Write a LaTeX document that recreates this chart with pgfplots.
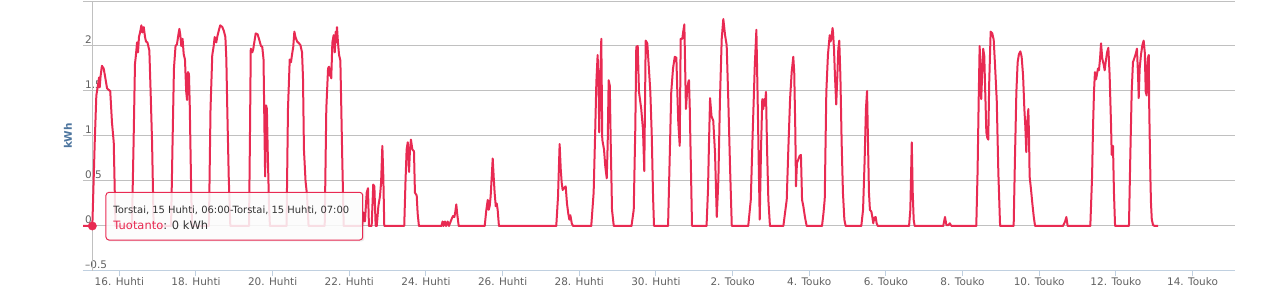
\documentclass[border=0pt]{standalone}
\usepackage{fontspec}
\setmainfont{DejaVu Sans}
\usepackage{pgfplots}
\pgfplotsset{compat=1.18}
\definecolor{hcred}{HTML}{E82A52}
\definecolor{gridc}{HTML}{C0C0C0}
\definecolor{axisc}{HTML}{C0D0E0}
\definecolor{labc}{HTML}{606060}
\definecolor{ttlc}{HTML}{4D759E}
\definecolor{tipc}{HTML}{333333}
\begin{document}
\begin{tikzpicture}
\begin{axis}[
  scale only axis, width=1152bp, height=270bp,
  xmin=1.25, xmax=722.6, ymin=-0.5, ymax=2.5,
  axis x line*=bottom, axis y line*=left,
  x axis line style={color=axisc, line width=1bp, -},
  y axis line style={draw=none},
  xtick={24,72,...,696},
  xticklabels={16. Huhti,18. Huhti,20. Huhti,22. Huhti,24. Huhti,26. Huhti,28. Huhti,30. Huhti,2. Touko,4. Touko,6. Touko,8. Touko,10. Touko,12. Touko,14. Touko},
  ytick={-0.5,0,0.5,1,1.5,2,2.5},
  yticklabels={–0.5,0,0.5,1,1.5,2,},
  ymajorgrids, grid style={gridc, line width=1bp},
  tick align=outside, major tick length=5bp,
  xtick style={axisc, line width=1bp},
  ytick style={draw=none},
  ticklabel style={font=\fontsize{10.5}{12}\selectfont, text=labc},
  yticklabel style={anchor=south west, inner sep=0pt, xshift=7bp, yshift=2bp},
  xticklabel style={anchor=north, inner sep=1bp},
  ylabel={kWh},
  ylabel style={at={(rel axis cs:0,0.5)}, anchor=center, yshift=15bp, font=\bfseries\fontsize{10.5}{12}\selectfont, text=ttlc},
  clip=false,
]
\coordinate (bl) at (rel axis cs:0,0);
\coordinate (tr) at (rel axis cs:1,1);
\draw[gridc, line width=1bp] (axis cs:7.1,-0.5) -- (axis cs:7.1,2.5);
\addplot[hcred, line width=2bp, line join=round, no markers] coordinates {
(1.3,0) (7.1,0) (8.6,0.93) (9.6,1.45) (10.6,1.56) (11.3,1.65) (11.7,1.54) (12.3,1.67) (13.1,1.78) (14.2,1.75) (15.2,1.65) (16.3,1.53) (17.5,1.51) (18.3,1.5) (19.4,1.15) (20.5,0.93) (21.6,0)
(31.9,0) (32.9,0.9) (33.8,1.8) (34.4,1.9) (35.1,2.04) (35.7,1.93) (36.3,2.1) (37.1,2.16) (37.8,2.23) (38.5,2.15) (39.3,2.21) (40.1,2.1) (40.7,2.05) (41.6,2.04) (42.8,1.95) (43.6,1.49) (44.5,0.93) (45.5,0)
(56.4,0) (57.3,0.9) (58.2,1.75) (59.2,2.0) (60.1,2.02) (61.1,2.14) (61.6,2.19) (62.2,2.12) (62.8,2.0) (63.6,2.08) (64.3,1.91) (65.1,1.85) (65.9,1.49) (66.4,1.4) (67.0,1.71) (67.6,1.69) (68.1,1.34) (68.9,0.5) (69.5,0)
(80.1,0) (81.1,1.3) (82.2,1.9) (83.1,2.0) (83.7,2.1) (84.7,2.04) (85.3,2.1) (86.4,2.18) (87.2,2.23) (88.5,2.21) (89.4,2.17) (90.4,2.1) (91.0,1.86) (91.6,1.3) (92.5,0.55) (93.5,0)
(105.2,0) (105.8,1.0) (106.3,1.97) (107.3,1.93) (107.9,1.97) (108.6,2.05) (109.4,2.14) (110.6,2.13) (111.6,2.07) (112.7,2.0) (113.5,1.99) (114.3,1.85) (114.9,1.04) (115.3,0.55) (115.9,1.34) (116.4,1.3) (116.9,0.85) (117.7,0.25) (118.3,0)
(128.7,0) (129.6,1.3) (130.7,1.85) (131.5,1.82) (132.1,1.9) (132.9,1.99) (133.6,2.16) (134.3,2.1) (135.3,2.05) (136.5,2.03) (137.4,2.01) (138.4,1.93) (139.0,1.65) (139.6,0.85) (140.6,0.5) (141.5,0.35) (142.5,0)
(152.6,0) (153.6,1.3) (154.7,1.75) (155.3,1.77) (155.7,1.67) (156.4,1.75) (156.7,1.64) (157.4,2.04) (158.2,2.12) (158.9,1.93) (159.5,2.16) (159.9,2.04) (160.3,2.21) (160.9,2.04) (161.6,1.9) (162.4,1.84) (163.0,1.3) (163.6,0.74) (164.5,0)
(176.0,0) (176.9,0.15) (177.8,0.05) (178.9,0.37) (179.7,0.42) (180.3,0) (182.0,0) (183.0,0.46) (183.7,0.44) (184.5,0) (185.2,0) (186.2,0.22) (187.2,0.33) (187.9,0.48) (188.7,0.89) (189.3,0.55) (189.9,0)
(202.4,0) (203.2,0.5) (203.9,0.85) (204.6,0.93) (205.4,0.6) (206.0,0.85) (206.6,0.96) (207.5,0.85) (208.5,0.83) (209.1,0.37) (210.2,0.34) (210.8,0.14) (211.6,0)
(225.7,0) (226.4,0.05) (227.0,0) (227.9,0.05) (228.6,0) (229.6,0.05) (230.4,0) (231.9,0.07) (232.9,0.11) (233.8,0.1) (234.4,0.16) (235.0,0.24) (235.6,0.13) (236.5,0)
(252.8,0) (253.8,0.18) (254.7,0.29) (255.3,0.18) (255.9,0.22) (256.5,0.33) (257.2,0.55) (257.8,0.75) (258.4,0.55) (259.0,0.37) (259.7,0.22) (260.3,0.25) (260.9,0.18) (261.7,0)
(297.6,0) (298.7,0.33) (299.7,0.91) (300.4,0.63) (301.0,0.48) (301.6,0.4) (302.4,0.42) (303.5,0.44) (304.3,0.25) (305.1,0.14) (305.8,0.07) (306.4,0.12) (307.3,0.03) (308.1,0)
(319.5,0) (321.0,0.37) (322.0,1.07) (322.7,1.6) (323.5,1.9) (324.2,1.45) (324.5,1.04) (325.2,1.67) (325.8,2.08) (326.4,0.96) (327.5,0.85) (328.3,0.66) (329.2,0.53) (329.8,0.92) (330.4,1.62) (331.1,1.56) (331.7,0.92) (332.5,0.18) (333.6,0)
(344.7,0) (346.1,0.18) (347.1,1.1) (347.7,1.99) (348.6,2.0) (349.4,1.49) (350.8,1.3) (351.9,1.07) (352.7,0.61) (353.6,2.06) (354.6,2.03) (355.5,1.78) (356.5,1.49) (357.4,1.0) (358.2,0.33) (358.8,0)
(367.6,0) (368.6,0.74) (369.6,1.49) (370.7,1.75) (371.8,1.88) (372.8,1.87) (373.4,1.49) (374.0,1.15) (374.9,0.89) (375.5,2.08) (376.5,2.08) (377.1,2.16) (377.8,2.24) (378.4,1.67) (378.8,1.3) (379.5,1.49) (380.3,1.6) (380.7,1.62) (381.2,1.3) (381.8,0.74) (382.6,0)
(391.7,0) (392.6,0.4) (393.2,0.9) (393.9,1.42) (394.8,1.22) (395.9,1.17) (397.0,0.81) (398.1,0.1) (399.1,0.51) (400.1,1.41) (401.2,2.08) (402.2,2.3) (403.3,2.12) (404.3,2.01) (405.3,1.41) (406.4,0.66) (407.5,0)
(417.8,0) (419.4,0.29) (420.6,1.04) (421.9,1.78) (422.9,2.18) (423.7,1.41) (424.4,0.66) (425.0,0.07) (425.8,0.85) (426.6,1.41) (427.2,1.3) (427.9,1.41) (428.3,1.34) (428.9,1.49) (429.6,0.85) (430.4,0.29) (431.4,0)
(439.8,0) (440.8,0.14) (441.9,0.29) (442.9,0.85) (444.0,1.41) (445.0,1.71) (446.0,1.88) (446.6,1.71) (447.3,1.04) (447.7,0.44) (448.3,0.7) (449.2,0.74) (450.0,0.78) (450.8,0.79) (451.5,0.29) (452.3,0.22) (453.3,0.1) (454.4,0)
(464.0,0) (464.9,0.14) (465.7,0.3) (466.7,1.49) (467.7,1.9) (468.8,2.12) (469.4,2.05) (470.1,2.12) (470.6,2.2) (470.9,2.15) (471.5,1.97) (472.1,1.67) (472.9,1.35) (473.6,1.67) (474.2,1.97) (474.8,2.06) (475.5,1.67) (476.3,0.92) (477.1,0.37) (478.0,0.07) (478.8,0)
(488.6,0) (489.7,0.18) (490.7,0.74) (491.5,1.3) (492.2,1.5) (492.8,0.92) (493.4,0.37) (494.0,0.18) (494.9,0.16) (495.5,0.1) (496.1,0.03) (496.7,0.09) (497.6,0.1) (498.2,0.03) (498.9,0)
(518.5,0) (519.3,0.18) (520.2,0.93) (520.8,0.37) (521.4,0.07) (522.0,0)
(539.9,0) (541.0,0.1) (541.9,0.01) (543.2,0.01) (544.0,0.03) (544.6,0.01) (545.2,0)
(560.6,0) (561.4,0.6) (562.1,1.4) (562.7,2.0) (563.2,1.75) (563.7,1.41) (564.4,1.75) (564.9,1.97) (565.6,1.89) (566.2,1.49) (566.9,1.04) (567.5,0.98) (568.1,0.96) (568.7,1.6) (569.6,2.16) (570.6,2.14) (571.5,2.07) (572.3,1.8) (573.4,1.4) (574.4,0.6) (575.5,0)
(584.0,0) (584.8,0.74) (585.7,1.49) (586.5,1.82) (587.3,1.91) (588.2,1.94) (589.0,1.88) (589.9,1.67) (590.7,1.3) (591.3,1.11) (591.9,0.82) (592.5,1.15) (593.2,1.3) (593.6,1.0) (594.0,0.55) (594.9,0.4) (595.7,0.25) (596.6,0.1) (597.4,0)
(614.9,0) (616.2,0.05) (617.0,0.1) (617.8,0)
(632.0,0) (633.1,0.55) (633.7,1.1) (634.3,1.49) (634.9,1.71) (635.6,1.63) (636.2,1.69) (636.8,1.75) (637.4,1.73) (638.1,1.86) (638.7,2.03) (639.5,1.86) (640.4,1.79) (641.0,1.73) (641.6,1.82) (642.5,1.93) (643.3,1.98) (644.1,1.67) (645.0,1.11) (645.4,0.79) (645.8,0.89) (646.2,0.89) (646.8,0.37) (647.5,0)
(656.2,0) (657.0,0.74) (657.9,1.49) (658.7,1.82) (659.5,1.86) (660.4,1.91) (661.2,1.97) (661.9,1.67) (662.3,1.42) (662.9,1.75) (663.7,1.9) (664.6,2.01) (665.4,2.06) (666.1,1.93) (666.7,1.49) (667.3,1.45) (667.9,1.86) (668.6,1.9) (668.9,1.3) (669.6,0.55) (670.0,0.25) (670.5,0.07) (671.3,0.01) (672.3,0) (674.4,0)
};
\fill[black, opacity=0.08, rounded corners=3bp] (axis cs:16.3,0.364) rectangle (axis cs:177.5,-0.172);
\draw[hcred, line width=1bp, rounded corners=3bp, fill=white, fill opacity=0.85] (axis cs:15.65,0.374) rectangle (axis cs:176.4,-0.156);
\node[anchor=base west, inner sep=0pt, text=tipc, font=\fontsize{10}{12}\selectfont] at (axis cs:20.2,0.144) {Torstai, 15 Huhti, 06:00-Torstai, 15 Huhti, 07:00};
\node[anchor=base west, inner sep=0pt, font=\fontsize{11.5}{14}\selectfont] at (axis cs:20.2,-0.039) {\textcolor{hcred}{Tuotanto}\textcolor{tipc}{: 0 kWh}};
\addplot[only marks, mark=*, mark size=4.2bp, hcred] coordinates {(7.1,0)};
\end{axis}
\pgfresetboundingbox
\path[use as bounding box] ([xshift=-83bp,yshift=-27bp]bl) rectangle ([xshift=39bp,yshift=1bp]tr);
\end{tikzpicture}
\end{document}
